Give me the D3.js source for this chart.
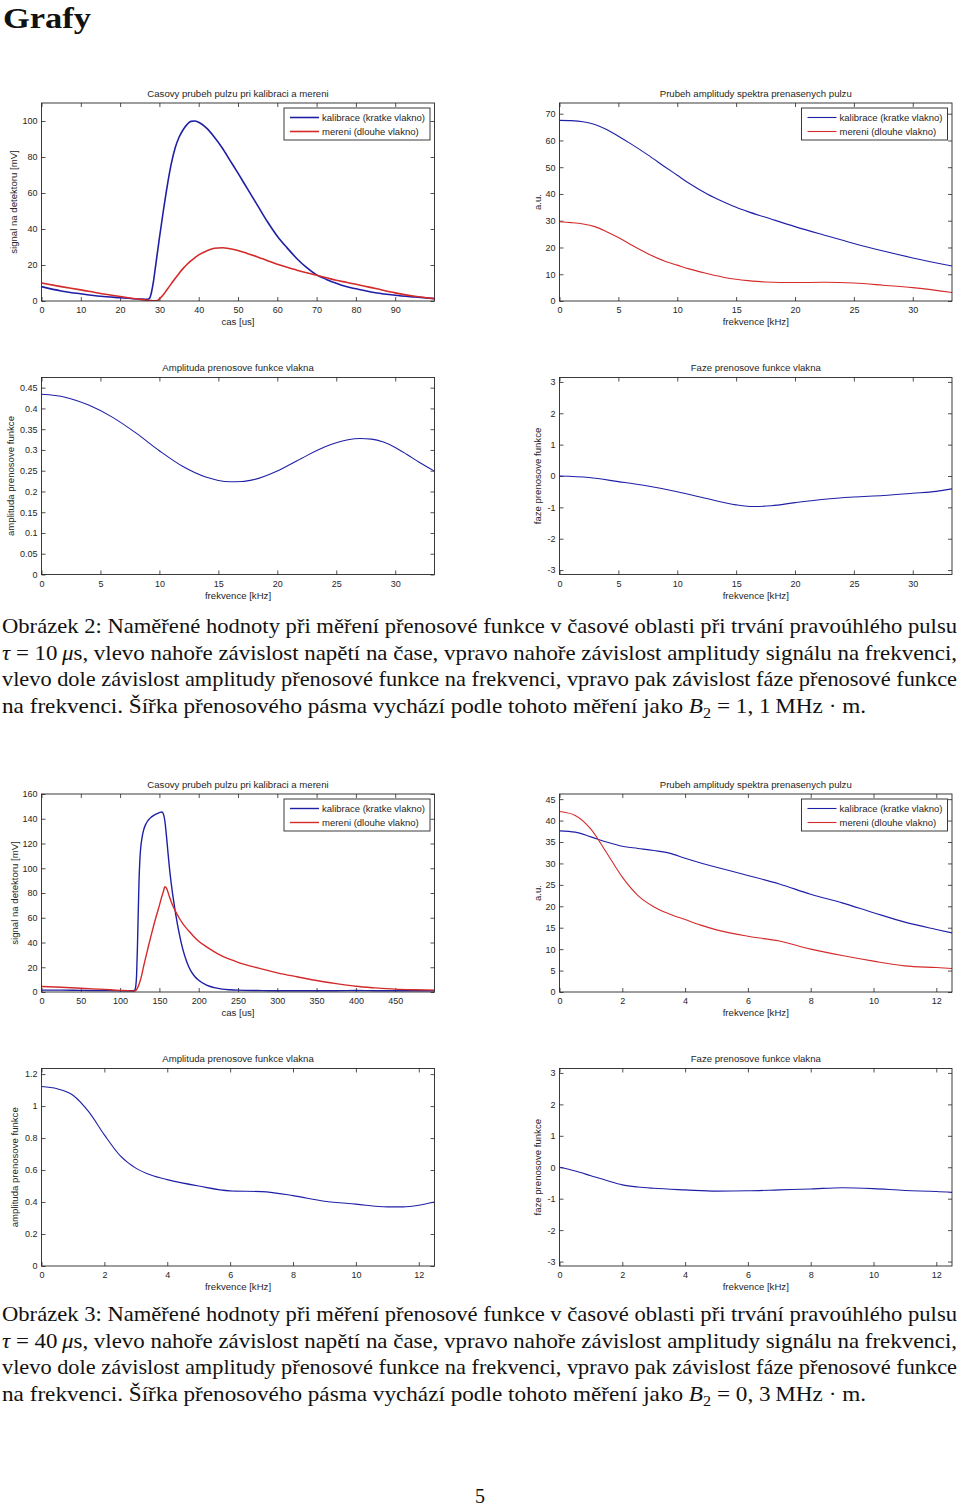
<!DOCTYPE html>
<html><head><meta charset="utf-8">
<script src="https://cdn.jsdelivr.net/npm/d3@7"></script>
<style>
body{margin:0;background:#fff;}
svg{display:block;}
</style></head><body>
<svg id="page" width="960" height="1509"></svg>
<script>
// ---------- DATA ----------
// Figure 2 (tau = 10 us)
const time10 = [0,5,10,15,20,25,27,27.5,28,28.5,29,29.5,30,31,32,33,34,35,36,37,38,39,40,42,44,46,48,50,52.5,55,57.5,60,62.5,65,67.5,70,72.5,75,77.5,80,85,90,95,100];
const cal10  = [8,5.6,4,2.6,1.8,1.1,0.9,1.5,5,11,19,27,35,50,64,76,85,91,95,98,99.8,100,99.3,96,91,85,78,71,62,53,44,36,29.5,23.5,18.5,14.5,12,9.8,8,6.8,4.6,3.2,2.2,1.3];
const mer10  = [10,8,6.2,4.2,2.5,0.9,0.4,0.3,0.2,0.1,0.1,0.3,1.2,3.5,6.5,9.5,12.5,15.3,18,20.3,22.3,24,25.6,27.8,29.3,29.6,29,28,26.3,24.5,22.4,20.4,18.7,17.1,15.7,14.3,12.9,11.5,10.4,9.3,6.9,4.5,2.6,1.3];

const freqSpec10 = [0,1,2,3,4,5,6,7.5,9,10,11,12.5,14,15,16,17.5,20,22.5,25,27.5,30,33.33];
const specCal10  = [67.5,67.4,67,66,64.1,61.6,58.9,54.6,50,47,44,40.1,36.9,35,33.4,31.3,27.8,24.6,21.5,18.7,16.1,13.1];
const specMer10  = [29.6,29.3,28.8,27.8,25.9,23.7,21.2,17.7,14.8,13.4,12,10.3,8.8,8.1,7.6,7.1,6.9,7.0,6.7,5.9,5.0,3.2];

const freqAmp10 = [0,2,4,6,8,10,12,14,15,16,17,18,20,22,24,25,26,27,28,29,30,31,32,33.33];
const amp10     = [0.434,0.427,0.408,0.379,0.341,0.298,0.260,0.234,0.2265,0.2235,0.224,0.2285,0.2495,0.279,0.307,0.3175,0.3245,0.3275,0.326,0.319,0.306,0.289,0.271,0.249];

const freqPhase10 = [0,2.5,5,7.5,10,12.5,15,16.5,18,20,22.5,25,27.5,30,32,33.33];
const phase10     = [0,-0.05,-0.18,-0.32,-0.5,-0.72,-0.92,-0.975,-0.95,-0.85,-0.74,-0.67,-0.62,-0.55,-0.49,-0.41];

// Figure 3 (tau = 40 us)
const time40 = [0,25,50,75,100,110,115,118,119,120,121,122,123,124,125,126,128,130,133,136,140,145,150,153,155,157,159,161,163,165,168,171,175,180,185,190,195,200,210,220,230,240,250,275,300,325,350,375,400,425,450,475,500];
const cal40  = [1.5,1.5,1.3,1.2,1,1,1,1.2,2,5,14,35,62,88,105,115,125,131,136,139,141.5,143.5,145,145.5,144,138,126,112,99,88,74,62,48,34,24,17,12.5,9.5,5.5,3.5,2.3,1.8,1.5,1.2,1,1,1,1,1.2,1,1,1,1];
const mer40  = [4.5,3.8,3,2.3,1.3,1,0.8,0.8,1,1.3,2,3,4.5,6,8,10,15,21,29,37,47,59,70,77,81,85,84,80.5,76.5,73,68.5,64.5,60,55,51,47.5,44,41,36.5,32.5,29,26.3,24,19.5,15.5,12.3,9.3,6.8,4.6,3.3,2.3,1.8,1.5];

const freqSpec40 = [0,0.5,1,1.5,2,2.5,3,3.5,4,4.5,5,6,7,8,9,10,11,12,12.5];
const specCal40  = [37.6,37.3,36.2,35,34,33.5,33,32.4,31.2,30.1,29.1,27.2,25.2,22.8,20.8,18.5,16.3,14.6,13.8];
const specMer40  = [42.1,41.2,38,32.5,26.8,22.5,19.9,18.2,16.9,15.6,14.5,13,11.9,10,8.5,7.2,6.1,5.7,5.5];

const freqAmp40 = [0,0.5,1,1.5,2,2.5,3,3.5,4,5,6,7,8,9,10,11,11.5,12,12.5];
const amp40     = [1.122,1.108,1.068,0.965,0.82,0.69,0.612,0.567,0.54,0.5,0.47,0.465,0.44,0.405,0.387,0.37,0.37,0.38,0.40];

const freqPhase40 = [0,0.5,1,1.5,2,2.5,3,4,5,6,7,8,9,10,11,12,12.5];
const phase40     = [0,-0.12,-0.27,-0.42,-0.56,-0.63,-0.67,-0.72,-0.76,-0.75,-0.72,-0.69,-0.65,-0.68,-0.74,-0.77,-0.8];

// Ticks
const ticksTime10 = [0,10,20,30,40,50,60,70,80,90];
const ticksSig10  = [0,20,40,60,80,100];
const ticksFreq10 = [0,5,10,15,20,25,30];
const ticksSpec10 = [0,10,20,30,40,50,60,70];
const ticksAmp10  = [0,0.05,0.1,0.15,0.2,0.25,0.3,0.35,0.4,0.45];
const ticksPhase  = [-3,-2,-1,0,1,2,3];
const ticksTime40 = [0,50,100,150,200,250,300,350,400,450];
const ticksSig40  = [0,20,40,60,80,100,120,140,160];
const ticksFreq40 = [0,2,4,6,8,10,12];
const ticksSpec40 = [0,5,10,15,20,25,30,35,40,45];
const ticksAmp40  = [0,0.2,0.4,0.6,0.8,1,1.2];

// Texts
const legendLabels = ["kalibrace (kratke vlakno)","mereni (dlouhe vlakno)"];
const titles = ["Casovy prubeh pulzu pri kalibraci a mereni","Prubeh amplitudy spektra prenasenych pulzu","Amplituda prenosove funkce vlakna","Faze prenosove funkce vlakna"];

// ---------- DRAW ----------
const svg = d3.select("#page");
svg.append("rect").attr("width",960).attr("height",1509).attr("fill","#fff");
const BLUE = "#1f1fa6", RED = "#d42a2a", INK = "#262626";
const SANS = "'Liberation Sans', Arial, sans-serif";
const SERIF = "'Liberation Serif', 'Times New Roman', serif";
const fmt = d => String(+d.toFixed(2));
let clipId = 0;

function chart(o){
  const g = svg.append("g");
  const x = d3.scaleLinear().domain(o.xDomain).range([o.x0,o.x1]);
  const y = d3.scaleLinear().domain(o.yDomain).range([o.y1,o.y0]);
  const style = sel => {
    sel.attr("font-family",SANS).attr("font-size",9);
    sel.select(".domain").remove();
    sel.selectAll("line").attr("stroke",INK).attr("stroke-width",0.8);
    sel.selectAll("text").attr("fill",INK);
  };
  g.append("g").attr("transform",`translate(0,${o.y1})`)
    .call(d3.axisBottom(x).tickValues(o.xTicks).tickSizeInner(-4).tickSizeOuter(0).tickPadding(6).tickFormat(fmt)).call(style);
  g.append("g").attr("transform",`translate(0,${o.y0})`)
    .call(d3.axisTop(x).tickValues(o.xTicks).tickSizeInner(-4).tickSizeOuter(0).tickFormat("")).call(style);
  g.append("g").attr("transform",`translate(${o.x0},0)`)
    .call(d3.axisLeft(y).tickValues(o.yTicks).tickSizeInner(-4).tickSizeOuter(0).tickPadding(4).tickFormat(fmt)).call(style);
  g.append("g").attr("transform",`translate(${o.x1},0)`)
    .call(d3.axisRight(y).tickValues(o.yTicks).tickSizeInner(-4).tickSizeOuter(0).tickFormat("")).call(style);

  const id = "clip"+(clipId++);
  g.append("clipPath").attr("id",id).append("rect")
    .attr("x",o.x0).attr("y",o.y0).attr("width",o.x1-o.x0).attr("height",o.y1-o.y0);
  const line = d3.line().x(d=>x(d[0])).y(d=>y(d[1])).curve(d3.curveMonotoneX);
  o.series.forEach(s=>{
    g.append("path").attr("clip-path",`url(#${id})`)
      .attr("d",line(s.x.map((v,i)=>[v,s.y[i]])))
      .attr("fill","none").attr("stroke",s.color).attr("stroke-width",s.w||1.1)
      .attr("stroke-linejoin","round");
  });
  g.append("rect").attr("x",o.x0).attr("y",o.y0).attr("width",o.x1-o.x0).attr("height",o.y1-o.y0)
    .attr("fill","none").attr("stroke",INK).attr("stroke-width",0.9);

  const tf = (sel)=>sel.attr("font-family",SANS).attr("font-size",9.6).attr("fill",INK).attr("text-anchor","middle");
  g.append("text").call(tf).attr("x",(o.x0+o.x1)/2).attr("y",o.y0-6.3).text(o.title);
  g.append("text").call(tf).attr("x",(o.x0+o.x1)/2).attr("y",o.y1+24).text(o.xLabel);
  g.append("text").call(tf).attr("transform",`translate(${o.x0+o.yLabelOff},${(o.y0+o.y1)/2}) rotate(-90)`)
    .attr("dy","0.35em").text(o.yLabel);

  if(o.legend){
    const lw=146, lh=32, lx=o.x1-4.5-lw, ly=o.y0+5;
    const lg = g.append("g");
    lg.append("rect").attr("x",lx).attr("y",ly).attr("width",lw).attr("height",lh)
      .attr("fill","#fff").attr("stroke",INK).attr("stroke-width",0.9);
    o.series.forEach((s,i)=>{
      const cy = ly+9.5+i*14;
      lg.append("line").attr("x1",lx+6).attr("x2",lx+35).attr("y1",cy).attr("y2",cy)
        .attr("stroke",s.color).attr("stroke-width",s.w||1.1);
      lg.append("text").attr("x",lx+38).attr("y",cy).attr("dy","0.35em")
        .attr("font-family",SANS).attr("font-size",9.5).attr("fill",INK).text(legendLabels[i]);
    });
  }
}

const L = {x0:41.5, x1:434.5}, R = {x0:559.5, x1:952};
const rows = [[103,301],[377.5,574.5],[794,992],[1068.5,1266]];

chart({...L, y0:rows[0][0], y1:rows[0][1], xDomain:[0,100], yDomain:[0,110], xTicks:ticksTime10, yTicks:ticksSig10,
  title:titles[0], xLabel:"cas [us]", yLabel:"signal na detektoru [mV]", yLabelOff:-28, legend:true,
  series:[{x:time10,y:cal10,color:BLUE,w:1.6},{x:time10,y:mer10,color:RED,w:1.6}]});
chart({...R, y0:rows[0][0], y1:rows[0][1], xDomain:[0,33.333], yDomain:[0,74], xTicks:ticksFreq10, yTicks:ticksSpec10,
  title:titles[1], xLabel:"frekvence [kHz]", yLabel:"a.u.", yLabelOff:-21.5, legend:true,
  series:[{x:freqSpec10,y:specCal10,color:BLUE},{x:freqSpec10,y:specMer10,color:RED}]});
chart({...L, y0:rows[1][0], y1:rows[1][1], xDomain:[0,33.333], yDomain:[0,0.4745], xTicks:ticksFreq10, yTicks:ticksAmp10,
  title:titles[2], xLabel:"frekvence [kHz]", yLabel:"amplituda prenosove funkce", yLabelOff:-30.5,
  series:[{x:freqAmp10,y:amp10,color:BLUE}]});
chart({...R, y0:rows[1][0], y1:rows[1][1], xDomain:[0,33.333], yDomain:[-Math.PI,Math.PI], xTicks:ticksFreq10, yTicks:ticksPhase,
  title:titles[3], xLabel:"frekvence [kHz]", yLabel:"faze prenosove funkce", yLabelOff:-21.5,
  series:[{x:freqPhase10,y:phase10,color:BLUE}]});
chart({...L, y0:rows[2][0], y1:rows[2][1], xDomain:[0,500], yDomain:[0,160], xTicks:ticksTime40, yTicks:ticksSig40,
  title:titles[0], xLabel:"cas [us]", yLabel:"signal na detektoru [mV]", yLabelOff:-27, legend:true,
  series:[{x:time40,y:cal40,color:BLUE,w:1.4},{x:time40,y:mer40,color:RED,w:1.4}]});
chart({...R, y0:rows[2][0], y1:rows[2][1], xDomain:[0,12.5], yDomain:[0,46.2], xTicks:ticksFreq40, yTicks:ticksSpec40,
  title:titles[1], xLabel:"frekvence [kHz]", yLabel:"a.u.", yLabelOff:-21.5, legend:true,
  series:[{x:freqSpec40,y:specCal40,color:BLUE},{x:freqSpec40,y:specMer40,color:RED}]});
chart({...L, y0:rows[3][0], y1:rows[3][1], xDomain:[0,12.5], yDomain:[0,1.235], xTicks:ticksFreq40, yTicks:ticksAmp40,
  title:titles[2], xLabel:"frekvence [kHz]", yLabel:"amplituda prenosove funkce", yLabelOff:-27,
  series:[{x:freqAmp40,y:amp40,color:BLUE}]});
chart({...R, y0:rows[3][0], y1:rows[3][1], xDomain:[0,12.5], yDomain:[-Math.PI,Math.PI], xTicks:ticksFreq40, yTicks:ticksPhase,
  title:titles[3], xLabel:"frekvence [kHz]", yLabel:"faze prenosove funkce", yLabelOff:-21.5,
  series:[{x:freqPhase40,y:phase40,color:BLUE}]});

// ---------- TEXT ----------
svg.append("text").attr("x",3).attr("y",28).attr("font-family",SERIF).attr("font-weight","bold")
  .attr("font-size",30).attr("textLength",88).attr("lengthAdjust","spacingAndGlyphs").attr("fill","#111").text("Grafy");

function caption(yBase, num, tau, bw){
  const lines = [
    [[`Obrázek ${num}: Naměřené hodnoty při měření přenosové funkce v časové oblasti při trvání pravoúhlého pulsu`]],
    [["τ","i"],[` = ${tau}\u2009`],["μ","i"],["s, vlevo nahoře závislost napětí na čase, vpravo nahoře závislost amplitudy signálu na frekvenci,"]],
    [["vlevo dole závislost amplitudy přenosové funkce na frekvenci, vpravo pak závislost fáze přenosové funkce"]],
    [["na frekvenci. Šířka přenosového pásma vychází podle tohoto měření jako "],["B","i"],["2","sub"],[` = ${bw}\u2009MHz · m.`,"back"]]
  ];
  const widths = [955,955,955,864];
  lines.forEach((segs,i)=>{
    const t = svg.append("text").attr("x",2).attr("y",yBase+i*26.7)
      .attr("font-family",SERIF).attr("font-size",21.5).attr("fill","#111")
      .attr("textLength",widths[i]).attr("lengthAdjust","spacingAndGlyphs");
    segs.forEach(([s,k])=>{
      const ts = t.append("tspan").text(s);
      if(k==="i") ts.attr("font-style","italic");
      if(k==="sub") ts.attr("font-size",15).attr("dy",5);
      if(k==="back") ts.attr("dy",-5);
    });
  });
}
caption(633, 2, "10", "1, 1");
caption(1321, 3, "40", "0, 3");

svg.append("text").attr("x",480).attr("y",1503).attr("text-anchor","middle")
  .attr("font-family",SERIF).attr("font-size",20).attr("fill","#111").text("5");
</script>
</body></html>
